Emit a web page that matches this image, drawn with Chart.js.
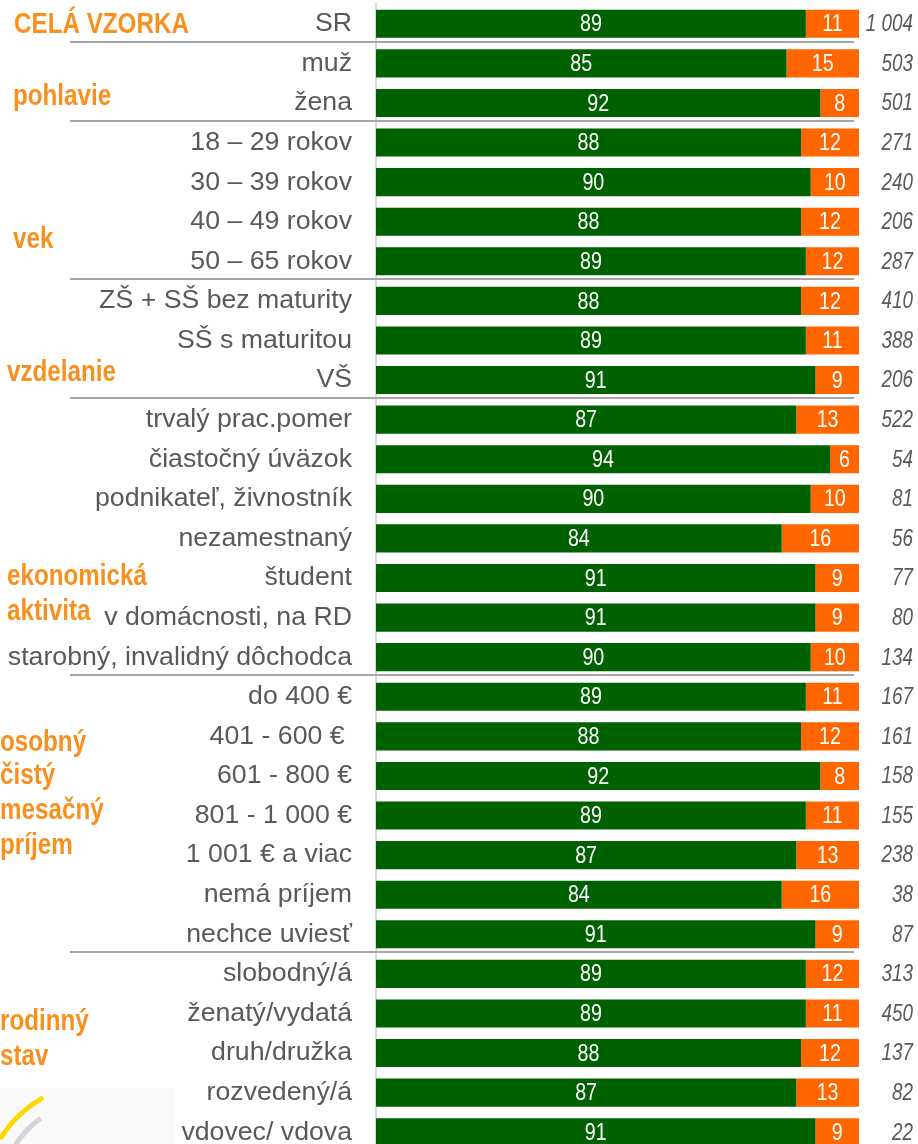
<!DOCTYPE html>
<html>
<head>
<meta charset="utf-8">
<script src="https://cdn.jsdelivr.net/npm/chart.js@4.4.1/dist/chart.umd.min.js"></script>
<style>
  html, body { margin: 0; padding: 0; background: #fff; overflow: hidden; }
  #wrap { width: 918px; height: 1152px; }
</style>
</head>
<body>
<div id="wrap"><canvas id="chart" width="918" height="1152"></canvas></div>
<script>
// rows, top to bottom
const categories = [
  "SR",
  "muž", "žena",
  "18 – 29 rokov", "30 – 39 rokov", "40 – 49 rokov", "50 – 65 rokov",
  "ZŠ + SŠ bez maturity", "SŠ s maturitou", "VŠ",
  "trvalý prac.pomer", "čiastočný úväzok", "podnikateľ, živnostník", "nezamestnaný",
  "študent", "v domácnosti, na RD", "starobný, invalidný dôchodca",
  "do 400 €", "401 - 600 € ", "601 - 800 €", "801 - 1 000 €", "1 001 € a viac",
  "nemá príjem", "nechce uviesť",
  "slobodný/á", "ženatý/vydatá", "druh/družka", "rozvedený/á", "vdovec/ vdova"
];
const greenValues = [89, 85, 92, 88, 90, 88, 89, 88, 89, 91, 87, 94, 90, 84, 91, 91, 90,
  89, 88, 92, 89, 87, 84, 91, 89, 89, 88, 87, 91];
const orangeValues = [11, 15, 8, 12, 10, 12, 12, 12, 11, 9, 13, 6, 10, 16, 9, 9, 10,
  11, 12, 8, 11, 13, 16, 9, 12, 11, 12, 13, 9];
const sampleSizes = ["1 004", "503", "501", "271", "240", "206", "287", "410", "388", "206",
  "522", "54", "81", "56", "77", "80", "134", "167", "161", "158", "155", "238", "38", "87",
  "313", "450", "137", "82", "22"];
// group captions: text lines and their row position (fractional category index)
const groupLabels = [
  { text: "CELÁ VZORKA", pos: 0.03, x: 14 },
  { text: "pohlavie", pos: 1.85, x: 13 },
  { text: "vek", pos: 5.46, x: 13 },
  { text: "vzdelanie", pos: 8.82, x: 7 },
  { text: "ekonomická", pos: 13.98, x: 7 },
  { text: "aktivita", pos: 14.86, x: 7 },
  { text: "osobný", pos: 18.17, x: 0 },
  { text: "čistý", pos: 19.0, x: 0 },
  { text: "mesačný", pos: 19.88, x: 0 },
  { text: "príjem", pos: 20.77, x: 0 },
  { text: "rodinný", pos: 25.22, x: 0 },
  { text: "stav", pos: 26.1, x: 0 }
];
// last row of each group (separator drawn below it)
const groupEnds = [0, 2, 6, 9, 16, 23];

const SANS = "'Liberation Sans', Arial, sans-serif";

// no narrow font installed, so squeeze Liberation Sans horizontally
function narrowText(ctx, text, x, y, align, squeeze) {
  ctx.save();
  ctx.translate(x, y);
  ctx.scale(squeeze || 0.82, 1);
  ctx.textAlign = align;
  ctx.fillText(text, 0, 0);
  ctx.restore();
}

const decorPlugin = {
  id: "decor",
  beforeDraw(chart) {
    const ctx = chart.ctx;
    ctx.save();
    ctx.fillStyle = "#fafafa";
    ctx.fillRect(0, 1088, 175, 70);
    ctx.lineWidth = 5;
    ctx.strokeStyle = "#ffd700";
    ctx.beginPath();
    ctx.arc(100, 1200, 117, 211.5 * Math.PI / 180, 241 * Math.PI / 180);
    ctx.stroke();
    ctx.strokeStyle = "#d4d4d4";
    ctx.beginPath();
    ctx.arc(100, 1200, 101, 211 * Math.PI / 180, 234 * Math.PI / 180);
    ctx.stroke();
    ctx.restore();
  },
  afterDraw(chart) {
    const ctx = chart.ctx;
    const y = chart.scales.y;
    const area = chart.chartArea;
    ctx.save();
    ctx.textBaseline = "middle";
    // separators
    ctx.strokeStyle = "#a6a6a6";
    ctx.lineWidth = 2;
    groupEnds.forEach(i => {
      const py = Math.round(y.getPixelForValue(i + 0.5)) - 2;
      ctx.beginPath();
      ctx.moveTo(70, py);
      ctx.lineTo(area.right - 5, py);
      ctx.stroke();
    });
    // group captions
    ctx.fillStyle = "#f7901e";
    ctx.font = "bold 29px " + SANS;
    groupLabels.forEach(g => {
      narrowText(ctx, g.text, g.x, y.getPixelForValue(g.pos), "left", 0.835);
    });
    // values inside bars
    ctx.fillStyle = "#ffffff";
    ctx.font = "24px " + SANS;
    chart.data.datasets.forEach((ds, di) => {
      chart.getDatasetMeta(di).data.forEach((bar, i) => {
        const right = Math.min(bar.x, area.right);
        narrowText(ctx, String(ds.data[i]), (right + bar.base) / 2, bar.y + 1, "center");
      });
    });
    // sample sizes
    ctx.fillStyle = "#595959";
    ctx.font = "italic 23px " + SANS;
    sampleSizes.forEach((n, i) => {
      narrowText(ctx, n, 913, y.getPixelForValue(i) + 1, "right");
    });
    ctx.restore();
  }
};

new Chart(document.getElementById("chart"), {
  type: "bar",
  data: {
    labels: categories,
    datasets: [
      { data: greenValues, backgroundColor: "#006100", barPercentage: 0.71, categoryPercentage: 1 },
      { data: orangeValues, backgroundColor: "#ff6600", barPercentage: 0.71, categoryPercentage: 1 }
    ]
  },
  options: {
    indexAxis: "y",
    responsive: false,
    devicePixelRatio: 1,
    animation: false,
    events: [],
    layout: { padding: { left: 0, right: 59, top: 4, bottom: 0 } },
    plugins: { legend: { display: false }, tooltip: { enabled: false } },
    scales: {
      x: { stacked: true, min: 0, max: 100, display: false },
      y: {
        stacked: true,
        afterFit(scale) {
          scale.width = 376;
          scale.paddingTop = 0;
          scale.paddingBottom = 0;
        },
        grid: { display: false, drawTicks: false },
        border: { display: true, color: "#d9d9d9", width: 2 },
        ticks: {
          padding: 24,
          color: "#595959",
          font: { family: SANS, size: 26.7 },
          autoSkip: false
        }
      }
    }
  },
  plugins: [decorPlugin]
});
</script>
</body>
</html>
